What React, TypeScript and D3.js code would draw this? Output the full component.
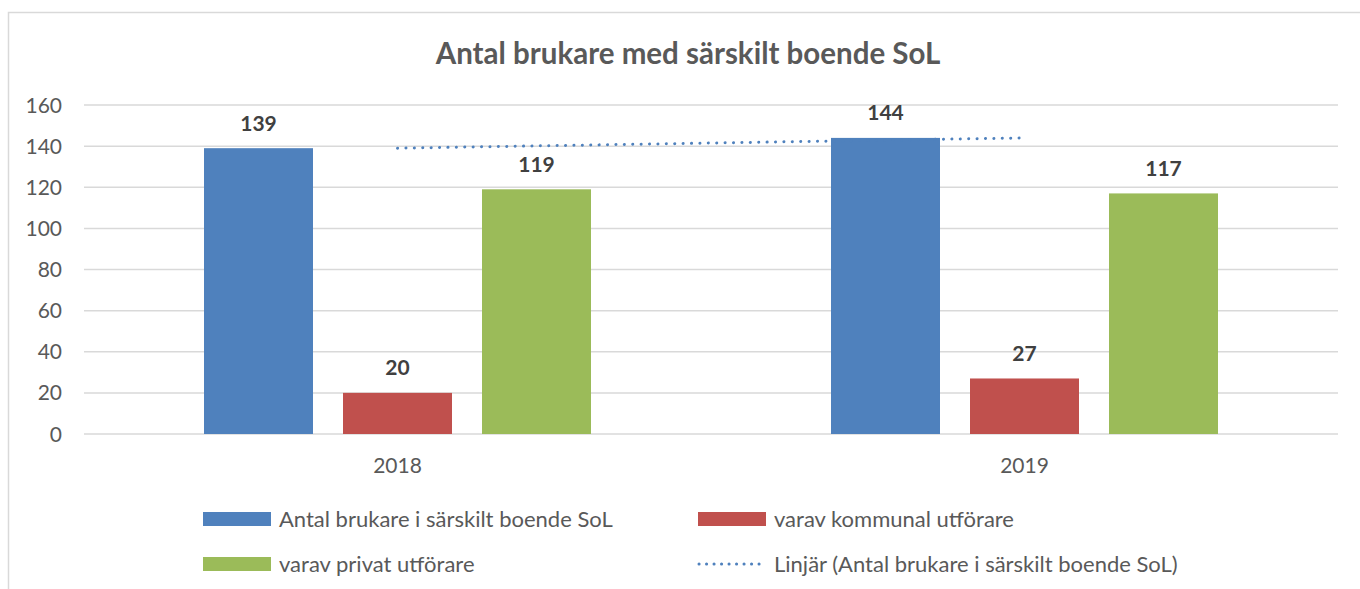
import React, { useEffect, useRef } from 'react';
import * as d3 from 'd3';

// chart data
const categories = ['2018', '2019'];
const seriesNames = [
  'Antal brukare i särskilt boende SoL',
  'varav kommunal utförare',
  'varav privat utförare',
];
const antalBrukare = [139, 144];
const kommunal = [20, 27];
const privat = [119, 117];
const yTicks = [0, 20, 40, 60, 80, 100, 120, 140, 160];
const trendLabel = 'Linjär (Antal brukare i särskilt boende SoL)';

const colors = ['#4f81bd', '#c0504d', '#9bbb59'];
const FONT = 'Lato, "Open Sans", sans-serif';

const App = () => {
  const svgRef = useRef<SVGSVGElement>(null);

  useEffect(() => {
    if (!svgRef.current) return;
    const svg = d3.select(svgRef.current);
    svg.selectAll('*').remove();

    const width = 1360;
    const height = 589;
    const left = 84, right = 1338, top = 105, bottom = 434;

    // chart frame (right and bottom edges run off the picture)
    svg.append('rect')
      .attr('x', 8.5).attr('y', 12.5)
      .attr('width', width + 10).attr('height', height + 10)
      .attr('fill', '#fff')
      .attr('stroke', '#d9d9d9')
      .attr('stroke-width', 1.5);

    svg.append('text')
      .attr('x', 688).attr('y', 64)
      .attr('text-anchor', 'middle')
      .attr('font-family', FONT)
      .attr('font-weight', 'bold')
      .attr('font-size', 29.5)
      .attr('fill', '#595959')
      .text('Antal brukare med särskilt boende SoL');

    const y = d3.scaleLinear().domain([0, 160]).range([bottom, top]);
    const x0 = d3.scaleBand<string>().domain(categories).range([left, right]);
    const groupWidth = 387;
    const x1 = d3.scaleBand<string>()
      .domain(seriesNames)
      .range([-groupWidth / 2, groupWidth / 2])
      .paddingInner(30 / 139);

    // gridlines
    svg.append('g')
      .selectAll('line')
      .data(yTicks)
      .enter()
      .append('line')
      .attr('x1', left).attr('x2', right)
      .attr('y1', d => y(d)).attr('y2', d => y(d))
      .attr('stroke', '#d9d9d9')
      .attr('stroke-width', 1.5);

    svg.append('g')
      .selectAll('text')
      .data(yTicks)
      .enter()
      .append('text')
      .attr('x', 62)
      .attr('y', d => y(d) + 7.5)
      .attr('text-anchor', 'end')
      .attr('font-family', FONT)
      .attr('font-size', 21)
      .attr('fill', '#595959')
      .text(d => d);

    const allSeries = [antalBrukare, kommunal, privat];
    const rows = categories.flatMap((c, ci) =>
      seriesNames.map((s, si) => ({ cat: c, name: s, si, value: allSeries[si][ci] })));

    const cx = (c: string) => (x0(c) ?? 0) + x0.bandwidth() / 2;

    svg.append('g')
      .selectAll('rect')
      .data(rows)
      .enter()
      .append('rect')
      .attr('x', d => cx(d.cat) + (x1(d.name) ?? 0))
      .attr('y', d => y(d.value))
      .attr('width', x1.bandwidth())
      .attr('height', d => bottom - y(d.value))
      .attr('fill', d => colors[d.si]);

    svg.append('g')
      .selectAll('text')
      .data(rows)
      .enter()
      .append('text')
      .attr('x', d => cx(d.cat) + (x1(d.name) ?? 0) + x1.bandwidth() / 2)
      .attr('y', d => y(d.value) - 17.5)
      .attr('text-anchor', 'middle')
      .attr('font-family', FONT)
      .attr('font-weight', 'bold')
      .attr('font-size', 21)
      .attr('fill', '#404040')
      .text(d => d.value);

    // linear trendline (least squares over category index)
    const xs = categories.map((_, i) => i + 1);
    const mx = d3.mean(xs) ?? 0;
    const my = d3.mean(antalBrukare) ?? 0;
    const slope = d3.sum(xs, (xi, i) => (xi - mx) * (antalBrukare[i] - my)) /
      d3.sum(xs, xi => (xi - mx) ** 2);
    const intercept = my - slope * mx;
    const trend = categories.map((c, i) => [cx(c), y(intercept + slope * xs[i])] as [number, number]);
    svg.append('path')
      .attr('d', d3.line()(trend))
      .attr('fill', 'none')
      .attr('stroke', '#4f81bd')
      .attr('stroke-width', 3)
      .attr('stroke-linecap', 'round')
      .attr('stroke-dasharray', '0.1 8.3');

    svg.append('g')
      .selectAll('text')
      .data(categories)
      .enter()
      .append('text')
      .attr('x', d => cx(d))
      .attr('y', 473)
      .attr('text-anchor', 'middle')
      .attr('font-family', FONT)
      .attr('font-size', 21)
      .attr('fill', '#595959')
      .text(d => d);

    // legend
    const legendItems = [
      { label: seriesNames[0], x: 203, y: 519, color: colors[0], dotted: false },
      { label: seriesNames[1], x: 698, y: 519, color: colors[1], dotted: false },
      { label: seriesNames[2], x: 203, y: 564, color: colors[2], dotted: false },
      { label: trendLabel, x: 698, y: 564, color: colors[0], dotted: true },
    ];
    const swatchW = 68;
    const lg = svg.append('g')
      .selectAll('g')
      .data(legendItems)
      .enter()
      .append('g')
      .attr('transform', d => `translate(${d.x},${d.y})`);
    lg.filter(d => !d.dotted)
      .append('rect')
      .attr('x', 0).attr('y', -7)
      .attr('width', swatchW).attr('height', 14)
      .attr('fill', d => d.color);
    lg.filter(d => d.dotted)
      .append('line')
      .attr('x1', 1).attr('x2', swatchW)
      .attr('y1', 0).attr('y2', 0)
      .attr('stroke', d => d.color)
      .attr('stroke-width', 3)
      .attr('stroke-linecap', 'round')
      .attr('stroke-dasharray', '0.1 7.4');
    lg.append('text')
      .attr('x', swatchW + 8)
      .attr('y', 8)
      .attr('font-family', FONT)
      .attr('font-size', 22)
      .attr('fill', '#595959')
      .text(d => d.label);
  }, []);

  return (
    <svg ref={svgRef} width={1360} height={589}
      style={{ position: 'absolute', left: 0, top: 0, display: 'block' }} />
  );
};

export default App;
